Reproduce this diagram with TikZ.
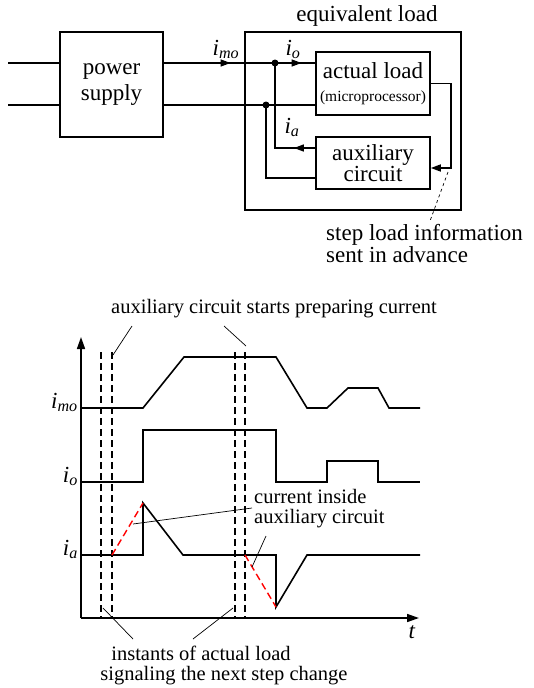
\documentclass[tikz,border=0pt]{standalone}
\usepackage{fontspec}
\setmainfont{Liberation Serif}
\usetikzlibrary{arrows.meta,decorations.markings}

\newcommand{\cur}[1]{\textit{i}\textsubscript{\textit{#1}}}

\begin{document}
\begin{tikzpicture}[x=1pt,y=-1pt,
  wire/.style={line width=1.6pt},
  thin line/.style={line width=0.7pt},
  blk/.style={draw,line width=1.6pt,align=center,inner sep=0pt},
  flow/.style={postaction={decorate},decoration={markings,
    mark=at position #1 with {\arrow{Triangle[length=10pt,width=7pt]}}}},
  instant/.style={line width=1.4pt,dash pattern=on 7pt off 4pt},
  ramp/.style={red,line width=1.4pt,dash pattern=on 7pt off 4pt},
  big/.style={font=\rmfamily\fontsize{23}{26}\selectfont},
  small/.style={font=\rmfamily\fontsize{20.5}{22}\selectfont,inner sep=0pt}]
\useasboundingbox (0,0) rectangle (534,688);

% ---- block diagram ----
\node[blk,big,minimum width=103pt,minimum height=105pt] (ps) at (111.5,84.5) {power\\supply};
\node[blk,minimum width=216pt,minimum height=178pt] (eq) at (353,121) {};
\node[big,anchor=base] (eqlab) at (367,21) {equivalent load};
\node[blk,big,minimum width=114pt,minimum height=63pt] (al) at (373,83.5)
  {actual load\\[-3pt]{\fontsize{15.5}{17}\selectfont(microprocessor)}};
\node[blk,big,minimum width=114pt,minimum height=52pt] (aux) at (373,163)
  {auxiliary\\[-5pt]circuit};

\coordinate (in1) at (8,63);
\coordinate (in2) at (8,105);
\coordinate (j1) at (275,63);
\coordinate (j2) at (266,105);
\coordinate (sig) at (451,168);

\draw[wire] (in1) -- (ps.west |- in1);
\draw[wire] (in2) -- (ps.west |- in2);
\draw[wire,flow=0.6] (ps.east |- j1) -- (j1);
\draw[wire,flow=0.66] (j1) -- (al.west |- j1);
\draw[wire] (ps.east |- j2) -- (j2) -- (al.west |- j2);
\draw[wire,flow=0.17] ([yshift=15pt]aux.west) -| (j1);
\draw[wire] ([yshift=-15pt]aux.west) -| (j2);
\draw[wire,-{Triangle[length=10pt,width=7pt]}] (al.east) -| (sig) -- ([yshift=-5pt]aux.east);
\fill (j1) circle (3.5pt);
\fill (j2) circle (3.5pt);

\node[big,anchor=base] (imo) at (226,55) {\cur{mo}};
\node[big,anchor=base] (io) at (293,55) {\cur{o}};
\node[big,anchor=base] (ia) at (292,133) {\cur{a}};

\node[font=\rmfamily\fontsize{23}{20}\selectfont,align=left,anchor=base west,inner sep=0pt]
  (info) at (326,262) {step load information\\sent in advance};
\draw[thin line,dashed] (448,172) -- (430,221);

% ---- waveforms ----
\coordinate (o) at (81,618);
\foreach \x in {101,112,235,245}
  \draw[instant] (\x,352) -- (\x,618);

\draw[wire,-{Triangle[length=12pt,width=8pt]}] (o) -- (81,337);
\draw[wire,-{Triangle[length=12pt,width=8pt]}] (o) -- (419,618);
\node[big,anchor=base] (t) at (412,638) {\textit{t}};

\node[big,anchor=base east,inner sep=1pt] (lmo) at (79,408) {\cur{mo}};
\node[big,anchor=base east,inner sep=1pt] (lo) at (79,482) {\cur{o}};
\node[big,anchor=base east,inner sep=1pt] (la) at (79,555) {\cur{a}};

\draw[wire] (81,408) -- (143,408) -- (184,357) -- (276,357) -- (307,408)
  -- (327,408) -- (348,388) -- (378,388) -- (389,408) -- (420,408);
\draw[wire] (81,482) -- (143,482) -- (143,430) -- (276,430) -- (276,482)
  -- (327,482) -- (327,461) -- (378,461) -- (378,482) -- (420,482);
\draw[wire] (81,555) -- (143,555) -- (143,503) -- (183,555) -- (276,555)
  -- (276,607) -- (307,555) -- (420,555);
\draw[ramp] (112,555) -- (143,503);
\draw[ramp] (245,555) -- (276,607);

\node[small,anchor=base] (prep) at (274,313) {auxiliary circuit starts preparing current};
\draw[thin line] (132,326) -- (113,355);
\draw[thin line] (224,326) -- (246,346);

\node[small,anchor=base west] (ins1) at (254,503) {current inside};
\node[small,anchor=base west] (ins2) at (254,523) {auxiliary circuit};
\draw[thin line] (252,508) -- (133,524);
\draw[thin line] (266,536) -- (252,567);

\node[small,anchor=base] (sg1) at (201,660) {instants of actual load};
\node[small,anchor=base] (sg2) at (224,680) {signaling the next step change};
\draw[thin line] (103,608) -- (133,639);
\draw[thin line] (233,608) -- (193,639);
\end{tikzpicture}
\end{document}
